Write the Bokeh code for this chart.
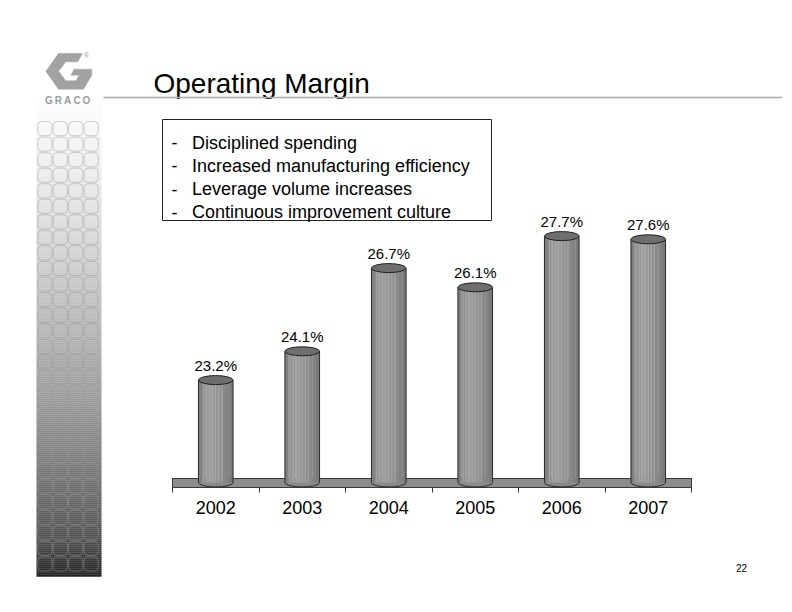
import numpy as np
from bokeh.plotting import figure
from bokeh.models import Range1d, LinearAxis, FixedTicker, BasicTickFormatter
from bokeh.core.properties import value
from bokeh.embed import file_html
from bokeh.resources import INLINE

# ---------------- data ----------------
years = [2002, 2003, 2004, 2005, 2006, 2007]
margins = [23.2, 24.1, 26.7, 26.1, 27.7, 27.6]
value_labels = [f"{m:.1f}%" for m in margins]
bullets = ["Disciplined spending",
           "Increased manufacturing efficiency",
           "Leverage volume increases",
           "Continuous improvement culture"]
title_text = "Operating Margin"
page_number = "22"
axis_base = 20.0

FONT = value("Liberation Sans")

# ---------------- page / figure ----------------
W, H = 792, 612
p = figure(width=W, height=H, x_range=Range1d(0, W), y_range=Range1d(0, H),
           output_backend="svg", toolbar_location=None,
           x_axis_location=None, y_axis_location=None, min_border=0,
           outline_line_color=None)
p.xgrid.visible = False
p.ygrid.visible = False
p.background_fill_color = "white"
p.border_fill_color = "white"


def Y(py):
    return H - py


# chart scales (mapped onto the page)
CAT0_PX = 215.25
CAT_STEP = 86.5
BASE_PY = 482.0
PX_PER_PCT = 32.0
p.extra_x_ranges = {"yr": Range1d(years[0] - CAT0_PX / CAT_STEP,
                                  years[0] + (W - CAT0_PX) / CAT_STEP)}
p.extra_y_ranges = {"pct": Range1d(axis_base - (H - BASE_PY) / PX_PER_PCT,
                                   axis_base + BASE_PY / PX_PER_PCT)}

# ---------------- left decorative strip ----------------
stops_py = [104, 150, 200, 250, 300, 350, 400, 450, 500, 540, 576]
stops_v = [252, 242, 228, 212, 193, 174, 154, 130, 102, 78, 34]
band_top, band_bot, band_col = [], [], []
for py in range(104, 576, 2):
    v = int(round(np.interp(py + 1, stops_py, stops_v)))
    band_top.append(Y(py))
    band_bot.append(Y(py + 2.2))
    band_col.append("#%02x%02x%02x" % (v, v, min(255, v + 2)))
p.quad(left=36, right=101, top=band_top, bottom=band_bot,
       fill_color=band_col, line_color=None)

cl, cr, ct, cb = [], [], [], []
for j in range(29):
    for i in range(4):
        x0 = 37.3 + i * 15.4
        y0 = 121.0 + j * 15.55
        cl.append(x0)
        cr.append(x0 + 14.2)
        ct.append(Y(y0))
        cb.append(Y(y0 + 14.2))
p.quad(left=cl, right=cr, top=ct, bottom=cb, fill_color=None,
       line_color="#9a9a9a", line_alpha=0.45, line_width=1, border_radius=4)

# ---------------- logo ----------------
gz = [(60, 15), (132, 15), (118, 40), (82, 40), (60, 68), (82, 97), (112, 97),
      (122, 80), (97, 80), (107, 62), (160, 62), (160, 80), (135, 122),
      (60, 122), (22, 68)]
p.patch([38 + a / 3 for a, b in gz], [Y(48 + b / 3) for a, b in gz],
        fill_color="#a2a2a2", line_color="#a2a2a2", line_width=0.5)
p.text(x=[48.3, 57.8, 67.2, 76.6, 86.0], y=[Y(100)] * 5,
       text=list("GRACO"), text_font=FONT, text_font_style="bold",
       text_font_size="10px", text_color="#9c9c9c",
       text_align="center", text_baseline="middle")
p.text(x=[86], y=[Y(55)], text=["®"], text_font=FONT, text_font_size="7px",
       text_color="#a2a2a2", text_align="center", text_baseline="middle")

# ---------------- title & rule ----------------
p.text(x=[153], y=[Y(83.3)], text=[title_text], text_font=FONT,
       text_font_size="28px", text_color="black",
       text_align="left", text_baseline="alphabetic")
p.segment(x0=[103], y0=[Y(97)], x1=[782], y1=[Y(97)],
          line_color="#aaaaaa", line_width=1.5)

# ---------------- bullet box ----------------
p.quad(left=[162], right=[491], top=[Y(119)], bottom=[Y(220)],
       fill_color="white", line_color="#222222", line_width=1)
bl_py = [142.3, 165.4, 188.6, 211.7]
p.text(x=[171] * len(bullets), y=[Y(b) for b in bl_py], text=["-"] * len(bullets),
       text_font=FONT, text_font_size="18px", text_color="black",
       text_baseline="alphabetic")
p.text(x=[191.5] * len(bullets), y=[Y(b) for b in bl_py], text=bullets,
       text_font=FONT, text_font_size="18px", text_color="black",
       text_baseline="alphabetic")

# ---------------- floor ----------------
p.quad(left=[172], right=[691], top=[Y(478)], bottom=[Y(487)],
       fill_color="#8c8c8c", line_color="#3a3a3a", line_width=1)

# ---------------- cylinders ----------------
BW = 0.4
p.ellipse(x=years, y=[axis_base] * len(years), width=BW, height=9,
          height_units="screen", x_range_name="yr", y_range_name="pct",
          fill_color="#8a8a8a", line_color="#2a2a2a", line_width=1)
shades = ["#808080", "#8e8e8e", "#979797", "#9b9b9b", "#989898",
          "#929292", "#8d8d8d", "#888888", "#838383", "#7a7a7a"]
nsl = len(shades)
sw = BW / nsl
for k, col in enumerate(shades):
    off = -BW / 2 + sw * (k + 0.5)
    p.vbar(x=[yv + off for yv in years], width=sw * 1.08, bottom=axis_base,
           top=margins, fill_color=col, line_color=None,
           x_range_name="yr", y_range_name="pct")
for off in [-0.14, -0.105, -0.07, -0.035, 0.0, 0.035, 0.07]:
    p.segment(x0=[yv + off for yv in years], y0=[axis_base] * len(years),
              x1=[yv + off for yv in years], y1=margins,
              line_color="#b0b0b0", line_alpha=0.7, line_width=1,
              x_range_name="yr", y_range_name="pct")
for side in (-BW / 2, BW / 2):
    p.segment(x0=[yv + side for yv in years], y0=[axis_base] * len(years),
              x1=[yv + side for yv in years], y1=margins,
              line_color="#2a2a2a", line_width=1,
              x_range_name="yr", y_range_name="pct")
p.ellipse(x=years, y=margins, width=BW, height=9, height_units="screen",
          x_range_name="yr", y_range_name="pct",
          fill_color="#6e6e6e", line_color="#222222", line_width=1)
p.text(x=years, y=margins, text=value_labels, y_offset=-15,
       x_range_name="yr", y_range_name="pct", text_font=FONT,
       text_font_size="15px", text_color="black",
       text_align="center", text_baseline="middle")

# ---------------- category axis (labels at centres, ticks between) ----------------
boundaries = [y - 0.5 for y in years] + [years[-1] + 0.5]
cat_axis = LinearAxis(x_range_name="yr",
                      ticker=FixedTicker(ticks=years, minor_ticks=boundaries),
                      formatter=BasicTickFormatter(use_scientific=False),
                      fixed_location=Y(487))
cat_axis.major_tick_in = 0
cat_axis.major_tick_out = 0
cat_axis.major_tick_line_color = None
cat_axis.minor_tick_in = 0
cat_axis.minor_tick_out = 5
cat_axis.minor_tick_line_color = "#333333"
cat_axis.minor_tick_line_width = 1
cat_axis.axis_line_color = None
cat_axis.major_label_standoff = 8
cat_axis.major_label_text_font = "Liberation Sans"
cat_axis.major_label_text_font_size = "18px"
cat_axis.major_label_text_color = "black"
p.add_layout(cat_axis, "below")

# ---------------- page number ----------------
p.text(x=[741], y=[Y(567)], text=[page_number], text_font=FONT,
       text_font_size="10px", text_color="black",
       text_align="center", text_baseline="middle")

open("out.html", "w").write(file_html(p, INLINE))
